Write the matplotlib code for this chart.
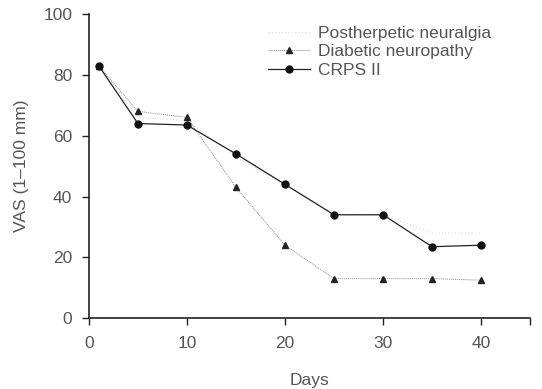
import matplotlib
matplotlib.use("Agg")
import matplotlib.pyplot as plt

# Data
days = [1, 5, 10, 15, 20, 25, 30, 35, 40]
postherpetic = [83, 66, 65, 53, 44, 34, 34, 28, 28]
diabetic = [83, 68, 66, 43, 24, 13, 13, 13, 12.5]
crps = [83, 64, 63.5, 54, 44, 34, 34, 23.5, 24]

plt.rcParams['font.family'] = ['Liberation Sans', 'DejaVu Sans']
txt = '#555555'

fig = plt.figure(figsize=(5.42, 3.89), dpi=100)
ax = fig.add_axes([0.164, 0.182, 0.814, 0.782])

ax.plot(days, postherpetic, color='#d8d8d8', lw=0.8, ls=(0, (1, 2)),
        label='Postherpetic neuralgia')
ax.plot(days, diabetic, color='#888888', lw=0.7, ls=(0, (1, 1)),
        marker='^', ms=5, mfc='#222222', mec='#222222',
        label='Diabetic neuropathy')
ax.plot(days, crps, color='#222222', lw=0.9,
        marker='o', ms=5, mfc='#111111', mec='#111111',
        label='CRPS II')

ax.set_xlim(0, 45)
ax.set_ylim(0, 100)
ax.set_xticks([0, 10, 20, 30, 40, 45])
ax.set_xticklabels(['0', '10', '20', '30', '40', ''])
ax.set_yticks([0, 20, 40, 60, 80, 100])

for s in ['top', 'right']:
    ax.spines[s].set_visible(False)
for s in ['left', 'bottom']:
    ax.spines[s].set_linewidth(1.2)
    ax.spines[s].set_color('#222222')

ax.tick_params(direction='out', length=5, width=1, colors='#222222',
               labelsize=12.5, labelcolor=txt)
ax.tick_params(axis='x', pad=8)
ax.tick_params(axis='y', pad=7)
ax.set_xlabel('Days', fontsize=12.5, color=txt, labelpad=16)
ax.set_ylabel('VAS (1\u2013100 mm)', fontsize=12.5, color=txt, labelpad=10)

leg = ax.legend(loc='upper left', bbox_to_anchor=(0.39, 0.985), frameon=False,
                fontsize=12.5, handlelength=2.4, handletextpad=0.5,
                labelspacing=0.2, borderaxespad=0)
for t in leg.get_texts():
    t.set_color(txt)

fig.savefig('out.png', dpi=100)
